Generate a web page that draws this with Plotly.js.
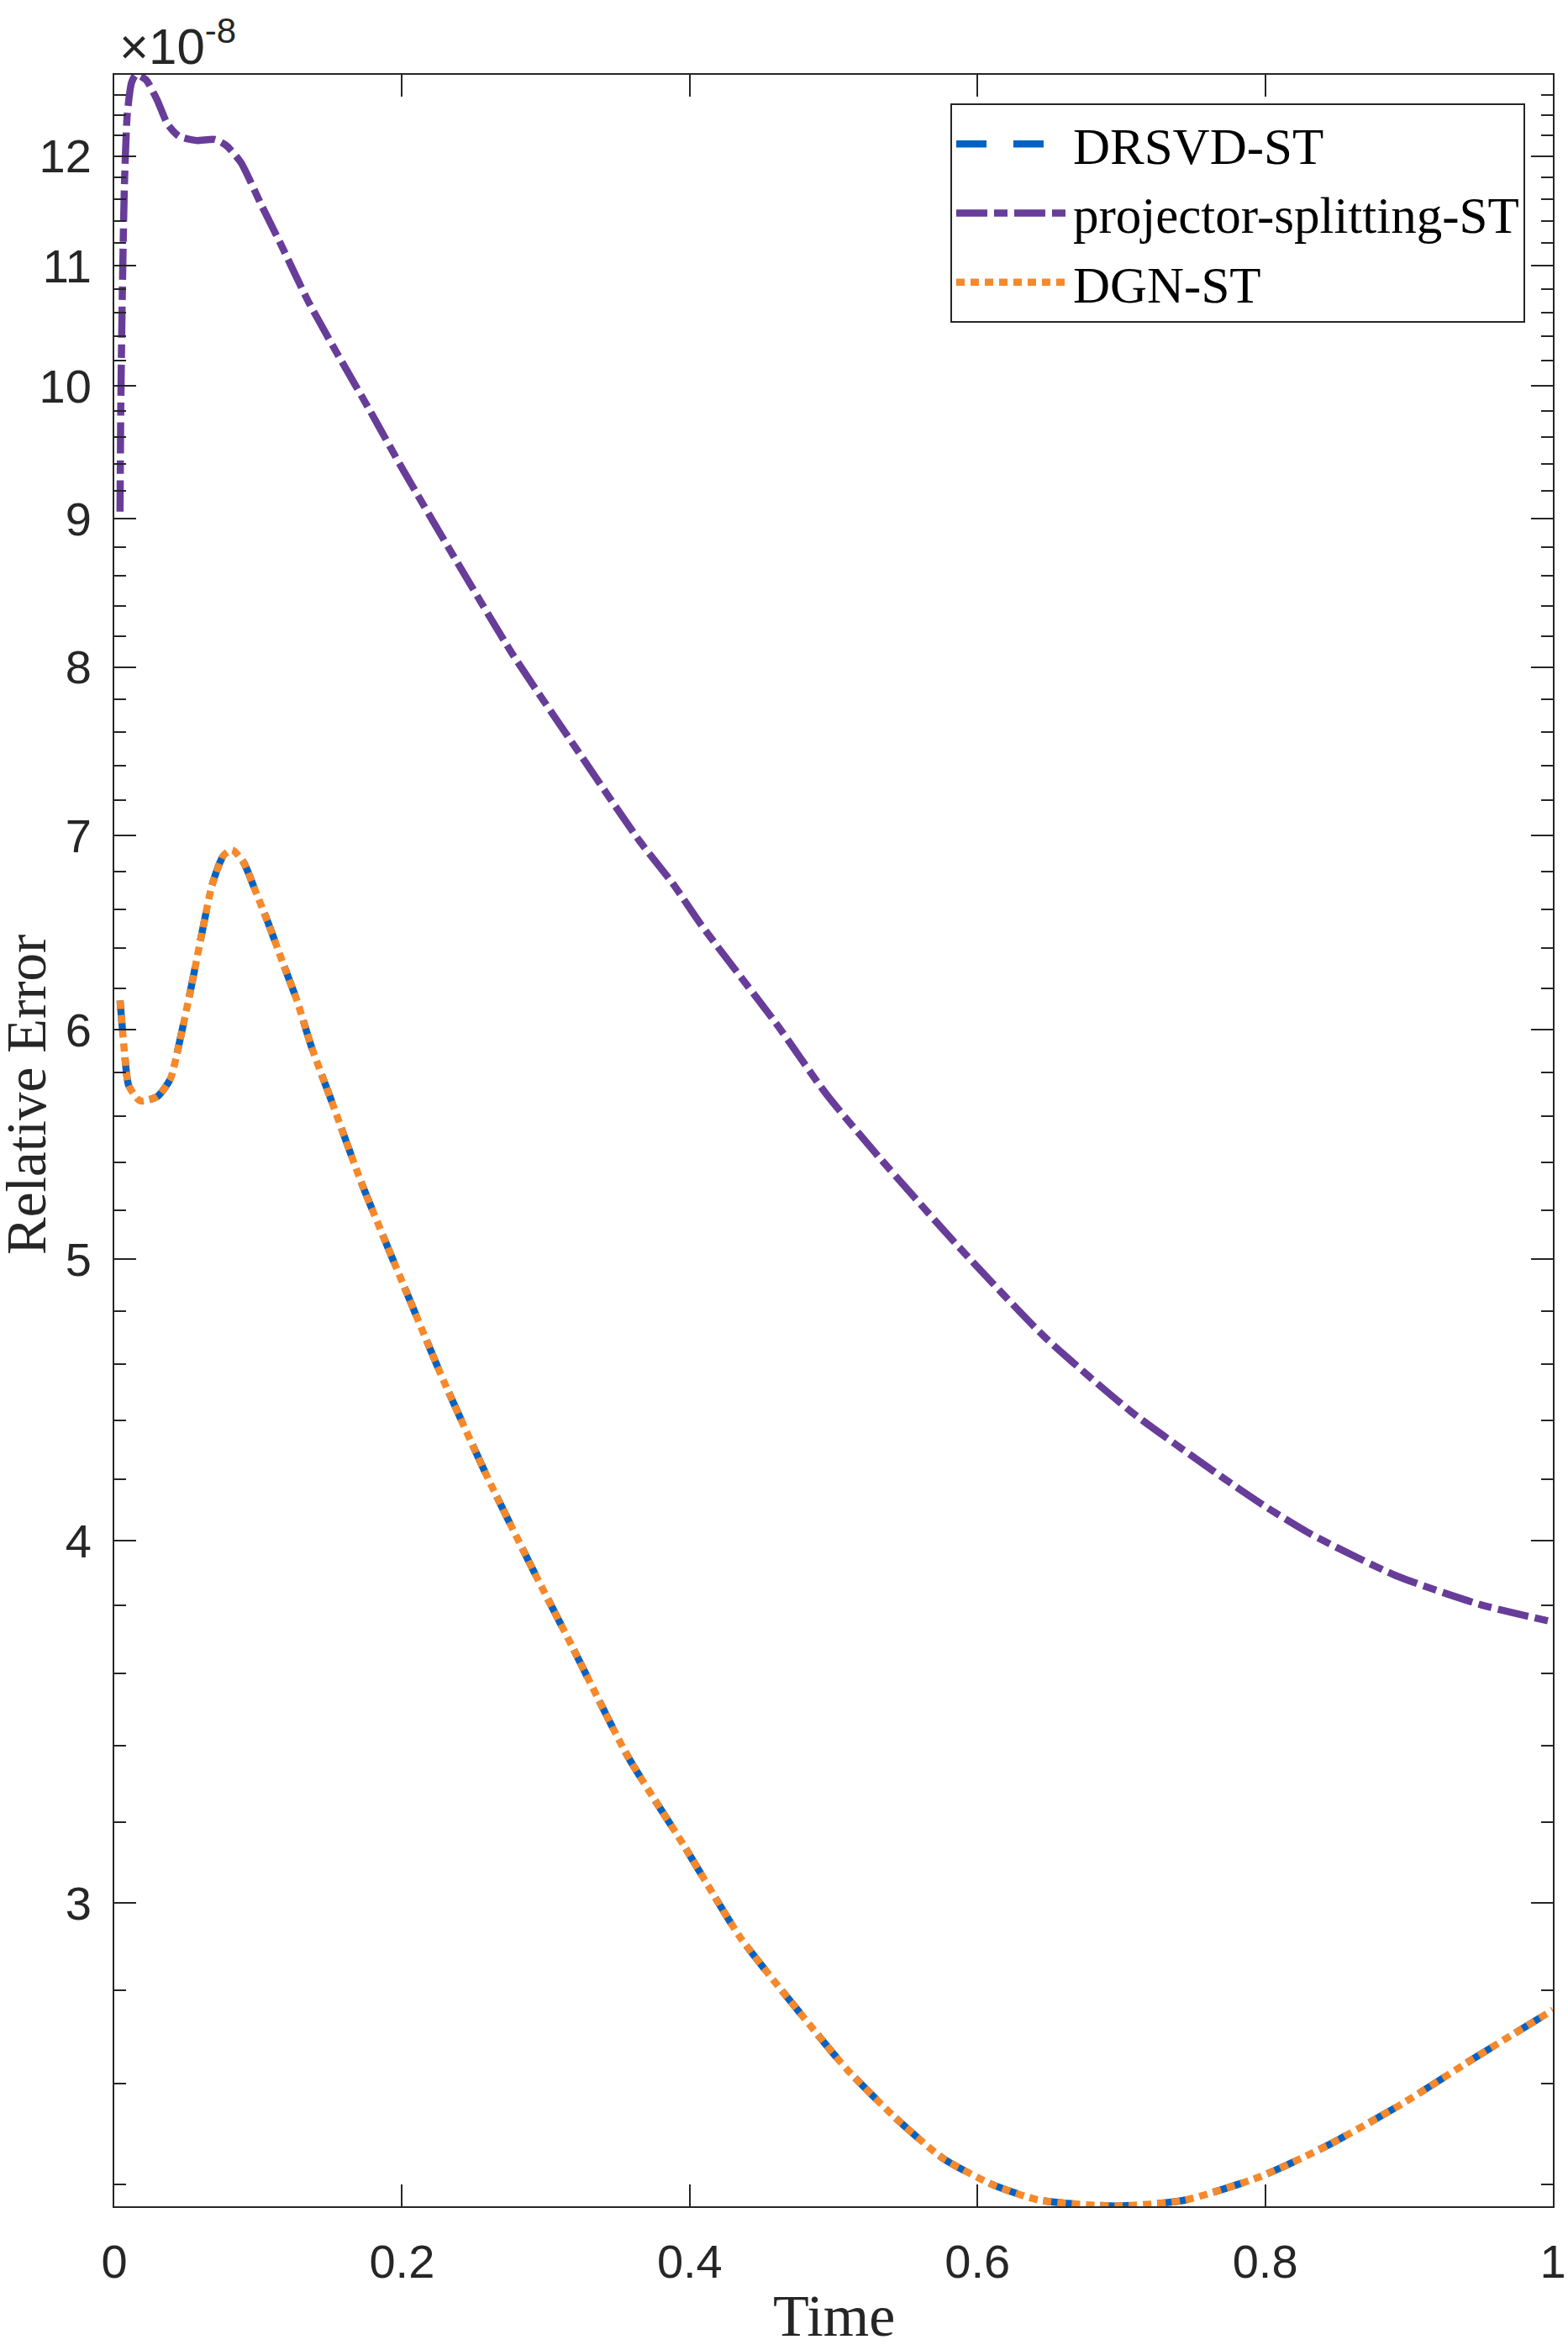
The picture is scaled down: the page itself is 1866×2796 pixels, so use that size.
<!DOCTYPE html>
<html>
<head>
<meta charset="utf-8">
<script src="https://cdn.plot.ly/plotly-3.0.1.min.js"></script>
<style>html,body{margin:0;padding:0;background:#fff;}#chart{width:1866px;height:2796px;}</style>
</head>
<body>
<div id="chart"></div>
<script>
// Values of relative error in units of 1e-8
const timeDRSVD = [0.004, 0.007, 0.010, 0.018, 0.030, 0.039, 0.045, 0.053, 0.061, 0.068, 0.076, 0.082, 0.090, 0.098, 0.107, 0.117, 0.127, 0.137, 0.151, 0.172, 0.201, 0.229, 0.260, 0.292, 0.318, 0.357, 0.396, 0.435, 0.475, 0.509, 0.543, 0.576, 0.610, 0.643, 0.697, 0.744, 0.797, 0.844, 0.895, 0.945, 1.000];
const errDRSVD  = [6.14, 5.90, 5.74, 5.67, 5.69, 5.77, 5.93, 6.19, 6.48, 6.73, 6.89, 6.92, 6.85, 6.70, 6.53, 6.33, 6.14, 5.92, 5.67, 5.31, 4.90, 4.54, 4.20, 3.90, 3.68, 3.37, 3.14, 2.92, 2.756, 2.63, 2.53, 2.45, 2.40, 2.37, 2.359, 2.37, 2.415, 2.476, 2.558, 2.652, 2.756];

const timeProj = [0.004, 0.0045, 0.0055, 0.007, 0.009, 0.012, 0.015, 0.022, 0.030, 0.037, 0.045, 0.057, 0.070, 0.078, 0.088, 0.102, 0.115, 0.135, 0.154, 0.178, 0.201, 0.238, 0.277, 0.321, 0.365, 0.388, 0.408, 0.460, 0.495, 0.532, 0.587, 0.647, 0.707, 0.769, 0.800, 0.832, 0.891, 0.951, 1.000];
const errProj  = [9.05, 9.80, 10.70, 11.70, 12.40, 12.72, 12.80, 12.75, 12.54, 12.31, 12.19, 12.15, 12.16, 12.10, 11.94, 11.55, 11.21, 10.69, 10.28, 9.80, 9.35, 8.70, 8.08, 7.50, 6.97, 6.74, 6.52, 6.03, 5.70, 5.42, 5.05, 4.70, 4.43, 4.21, 4.11, 4.02, 3.89, 3.80, 3.75];

const timeDGN = [0.004, 0.007, 0.010, 0.018, 0.030, 0.039, 0.045, 0.053, 0.061, 0.068, 0.076, 0.082, 0.090, 0.098, 0.107, 0.117, 0.127, 0.137, 0.151, 0.172, 0.201, 0.229, 0.260, 0.292, 0.318, 0.357, 0.396, 0.435, 0.475, 0.509, 0.543, 0.576, 0.610, 0.643, 0.697, 0.744, 0.797, 0.844, 0.895, 0.945, 1.000];
const errDGN  = [6.14, 5.90, 5.74, 5.67, 5.69, 5.77, 5.93, 6.19, 6.48, 6.73, 6.89, 6.92, 6.85, 6.70, 6.53, 6.33, 6.14, 5.92, 5.67, 5.31, 4.90, 4.54, 4.20, 3.90, 3.68, 3.37, 3.14, 2.92, 2.756, 2.63, 2.53, 2.45, 2.40, 2.37, 2.359, 2.37, 2.415, 2.476, 2.558, 2.652, 2.756];

const seriesNames = ['DRSVD-ST', 'projector-splitting-ST', 'DGN-ST'];
const xTickVals = [0, 0.2, 0.4, 0.6, 0.8, 1];
const xTickText = ['0', '0.2', '0.4', '0.6', '0.8', '1'];
const yTickVals = [3, 4, 5, 6, 7, 8, 9, 10, 11, 12];
const yTickText = ['3', '4', '5', '6', '7', '8', '9', '10', '11', '12'];
const yMinorVals = [];
for (let k = 12; k <= 64; k++) { if (k % 5 !== 0) yMinorVals.push(k / 5); }

const axisColor = '#262626';
const sans = 'Liberation Sans, Arial, sans-serif';
const tickFont = {family: sans, size: 56, color: axisColor};
const serif = 'Liberation Serif, Times New Roman, serif';

const traces = [
  {x: timeDRSVD, y: errDRSVD, name: seriesNames[0], type: 'scatter', mode: 'lines',
   line: {color: '#0062c4', width: 8.5, dash: '36px,32px', shape: 'spline', smoothing: 0.6}},
  {x: timeProj, y: errProj, name: seriesNames[1], type: 'scatter', mode: 'lines',
   line: {color: '#673d99', width: 8.5, dash: '37px,8px,16px,8px', shape: 'spline', smoothing: 0.6}},
  {x: timeDGN, y: errDGN, name: seriesNames[2], type: 'scatter', mode: 'lines',
   line: {color: '#f5892b', width: 8.5, dash: '10px,7px', shape: 'spline', smoothing: 0.6}}
];

const layout = {
  width: 1866, height: 2796,
  paper_bgcolor: '#fff', plot_bgcolor: '#fff',
  margin: {l: 136, r: 18, t: 89, b: 171},
  showlegend: true,
  legend: {
    x: 0.9807, y: 0.9866, xanchor: 'right', yanchor: 'top',
    bgcolor: '#fff', bordercolor: axisColor, borderwidth: 2,
    font: {family: serif, size: 61, color: '#000'},
    itemwidth: 134, tracegroupgap: 0
  },
  xaxis: {
    range: [0, 1], tickmode: 'array', tickvals: xTickVals, ticktext: xTickText,
    ticks: 'inside', ticklen: 26, tickwidth: 2, tickcolor: axisColor,
    showline: true, linecolor: axisColor, linewidth: 2, mirror: 'ticks',
    showgrid: false, zeroline: false, tickfont: tickFont, ticklabelstandoff: 16
  },
  yaxis: {
    type: 'log', range: [Math.log10(2.3585), Math.log10(12.8)],
    tickmode: 'array', tickvals: yTickVals, ticktext: yTickText,
    ticks: 'inside', ticklen: 26, tickwidth: 2, tickcolor: axisColor,
    minor: {tickmode: 'array', tickvals: yMinorVals, ticks: 'inside', ticklen: 14, tickwidth: 2, tickcolor: axisColor, showgrid: false},
    showline: true, linecolor: axisColor, linewidth: 2, mirror: 'ticks',
    showgrid: false, zeroline: false, tickfont: tickFont, ticklabelstandoff: 14
  },
  annotations: [
    {text: '×10<sup>-8</sup>', xref: 'paper', yref: 'paper', x: 0.0, y: 1.0, xanchor: 'left', yanchor: 'bottom',
     xshift: 4, yshift: -2, showarrow: false, font: {family: sans, size: 60, color: axisColor}},
    {text: 'Time', xref: 'paper', yref: 'paper', x: 0.5, y: 0, xanchor: 'center', yanchor: 'middle',
     yshift: -130, showarrow: false, font: {family: serif, size: 70, color: axisColor}},
    {text: 'Relative Error', xref: 'paper', yref: 'paper', x: 0, y: 0.5213, xanchor: 'center', yanchor: 'middle',
     xshift: -105, textangle: -90, showarrow: false, font: {family: serif, size: 67, color: axisColor}}
  ]
};

Plotly.newPlot('chart', traces, layout, {displayModeBar: false, staticPlot: true});
</script>
</body>
</html>
